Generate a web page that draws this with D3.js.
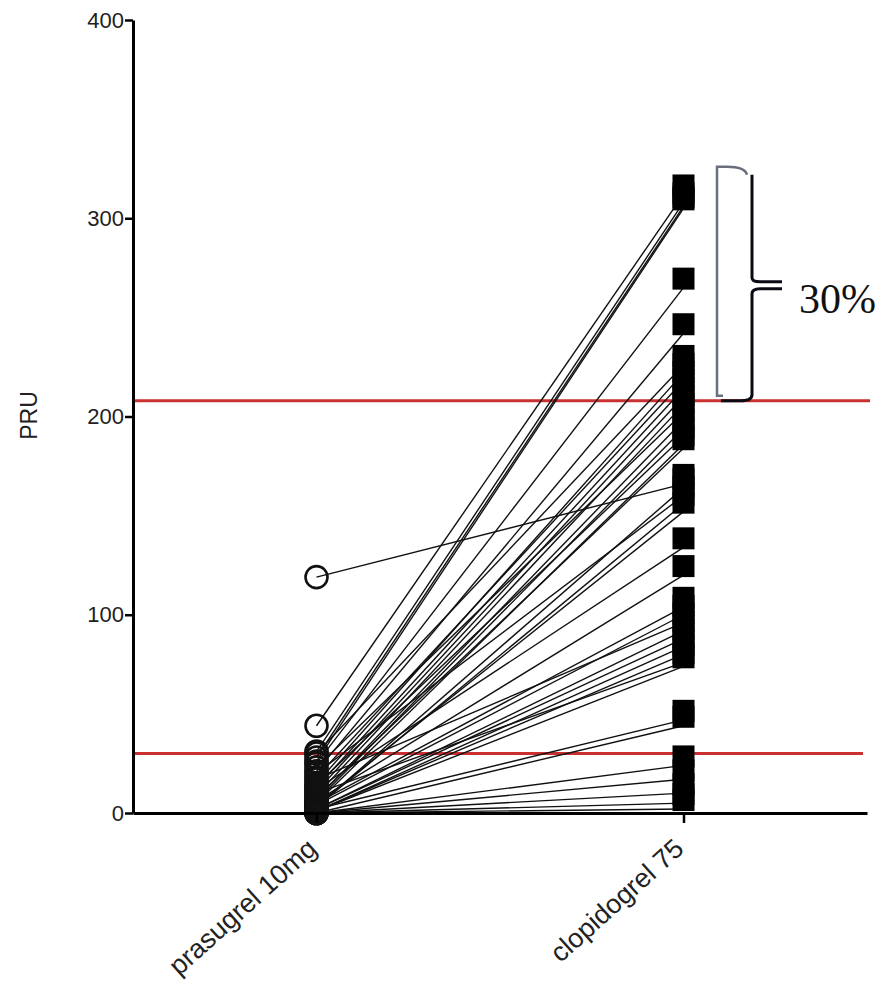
<!DOCTYPE html>
<html>
<head>
<meta charset="utf-8">
<script src="https://d3js.org/d3.v7.min.js"></script>
<style>
  body { margin: 0; background: #fff; }
  svg { display: block; }
</style>
</head>
<body>
<script>
//////////////////////
// GLOBAL VARIABLES //
const w = 883;
const h = 993;

const categories = ["prasugrel 10mg", "clopidogrel 75"];
// PRU per patient, same order in both arrays (one line per patient)
const prasugrel = [119, 44, 31, 30, 28, 26, 25, 23, 21, 20,
                   18, 17, 15, 14, 13, 12, 11, 10, 9, 8,
                   7, 6, 6, 5, 5, 4, 4, 3, 3, 2,
                   2, 2, 1, 1, 1, 0, 0, 0, 0, 0, 0];
const clopidogrel = [166, 312, 308, 226, 306, 305, 265, 202, 242, 160,
                     218, 96, 222, 190, 214, 134, 210, 76, 206, 184,
                     198, 120, 194, 186, 104, 152, 100, 164, 156, 92,
                     88, 47, 84, 80, 74, 44, 24, 17, 10, 5, 2];
const yTicks = [0, 100, 200, 300, 400];
const cutoffs = [208, 30];          // red reference lines
const bracketRange = [326, 208];    // "30%" brace spans these PRU values
const bracketLabel = "30%";
const yLabel = "PRU";
//////////////////////

let svg = d3.select("body")
  .append("svg")
  .attr("width", w)
  .attr("height", h);

let xScale = d3.scalePoint()
  .domain(categories)
  .range([133, 867])
  .padding(0.5);

let yScale = d3.scaleLinear()
  .domain([0, 400])
  .range([813, 20]);

const x0 = xScale.range()[0], x1 = xScale.range()[1];

// red cutoff lines
svg.selectAll("line.cut")
  .data(cutoffs)
  .enter()
  .append("line")
  .attr("class", "cut")
  .attr("x1", x0)
  .attr("x2", d => d > 100 ? x1 + 3 : x1 - 4)
  .attr("y1", d => yScale(d))
  .attr("y2", d => yScale(d))
  .attr("stroke", "#c9302f")
  .attr("stroke-width", 3);

// patient lines
const pairs = prasugrel.map((d, i) => ({a: d, b: clopidogrel[i]}));
svg.selectAll("line.pt")
  .data(pairs)
  .enter()
  .append("line")
  .attr("class", "pt")
  .attr("x1", xScale(categories[0]))
  .attr("y1", d => yScale(d.a))
  .attr("x2", xScale(categories[1]))
  .attr("y2", d => yScale(d.b))
  .attr("stroke", "#111")
  .attr("stroke-width", 1.4);

// open circles for prasugrel
svg.selectAll("circle")
  .data(prasugrel)
  .enter()
  .append("circle")
  .attr("cx", xScale(categories[0]))
  .attr("cy", d => yScale(d))
  .attr("r", 11)
  .attr("fill", "none")
  .attr("stroke", "#111")
  .attr("stroke-width", 2.6);

// filled squares for clopidogrel (symbol sits a bit above the line end)
const sq = 22;
svg.selectAll("rect.sq")
  .data(clopidogrel)
  .enter()
  .append("rect")
  .attr("class", "sq")
  .attr("x", xScale(categories[1]) - sq / 2)
  .attr("y", d => yScale(d) - 9 - sq / 2)
  .attr("width", sq)
  .attr("height", sq)
  .attr("fill", "#000");

// y axis
let yAxis = d3.axisLeft(yScale)
  .tickValues(yTicks)
  .tickSizeOuter(0)
  .tickSizeInner(8)
  .tickPadding(1);
let gy = svg.append("g")
  .attr("transform", "translate(" + x0 + ",0)")
  .call(yAxis);
gy.select(".domain").attr("stroke", "#000").attr("stroke-width", 3);
gy.selectAll(".tick line").attr("stroke", "#000").attr("stroke-width", 2.5);
gy.selectAll(".tick text")
  .attr("font-family", "Liberation Sans, Arial, sans-serif")
  .attr("font-size", 22)
  .attr("fill", "#222");

// x axis
let xAxis = d3.axisBottom(xScale)
  .tickSizeOuter(0)
  .tickSizeInner(10)
  .tickFormat("");
let gx = svg.append("g")
  .attr("transform", "translate(0," + yScale(0) + ")")
  .call(xAxis);
gx.select(".domain").attr("stroke", "#000").attr("stroke-width", 3);
gx.selectAll(".tick line").attr("stroke", "#000").attr("stroke-width", 2.5);

// rotated category labels
svg.selectAll("text.cat")
  .data(categories)
  .enter()
  .append("text")
  .attr("class", "cat")
  .attr("transform", d => "translate(" + (xScale(d) + 2) + "," + (yScale(0) + 38) + ") rotate(-42)")
  .attr("text-anchor", "end")
  .attr("font-family", "Liberation Sans, Arial, sans-serif")
  .attr("font-size", 27)
  .attr("fill", "#222")
  .text(d => d);

// y label
svg.append("text")
  .attr("transform", "translate(37," + (yScale(200) - 1) + ") rotate(-90)")
  .attr("text-anchor", "middle")
  .attr("font-family", "Liberation Sans, Arial, sans-serif")
  .attr("font-size", 23)
  .attr("fill", "#222")
  .text(yLabel);

// brace annotation
const bt = yScale(bracketRange[0]), bb = yScale(bracketRange[1]);
const bm = (bt + bb) / 2;
const lx = 717, rx = 752;
// grey back edge of the bracket
svg.append("path")
  .attr("d", "M" + (lx + 30) + "," + (bt + 8) + " Q" + (lx + 28) + "," + bt + " " + (lx + 10) + "," + bt
    + " L" + lx + "," + bt + " L" + lx + "," + (bb - 5) + " L" + (lx + 6) + "," + (bb - 5))
  .attr("fill", "none")
  .attr("stroke", "#6a6f7e")
  .attr("stroke-width", 2.5);
// black brace
let brace = d3.path();
brace.moveTo(rx, bt + 8);
brace.lineTo(rx, bm - 6);
brace.quadraticCurveTo(rx, bm - 2, rx + 8, bm - 2);
brace.lineTo(rx + 30, bm - 2);
brace.moveTo(rx + 30, bm + 5);
brace.lineTo(rx + 8, bm + 5);
brace.quadraticCurveTo(rx, bm + 5, rx, bm + 10);
brace.lineTo(rx, bb - 6);
brace.quadraticCurveTo(rx, bb, rx - 12, bb);
brace.lineTo(lx + 4, bb);
svg.append("path")
  .attr("d", brace.toString())
  .attr("fill", "none")
  .attr("stroke", "#0a0a14")
  .attr("stroke-width", 3);

svg.append("text")
  .attr("x", 799)
  .attr("y", bm + 29)
  .attr("font-family", "Liberation Serif, Times New Roman, serif")
  .attr("font-size", 42)
  .attr("fill", "#111")
  .text(bracketLabel);
</script>
</body>
</html>
